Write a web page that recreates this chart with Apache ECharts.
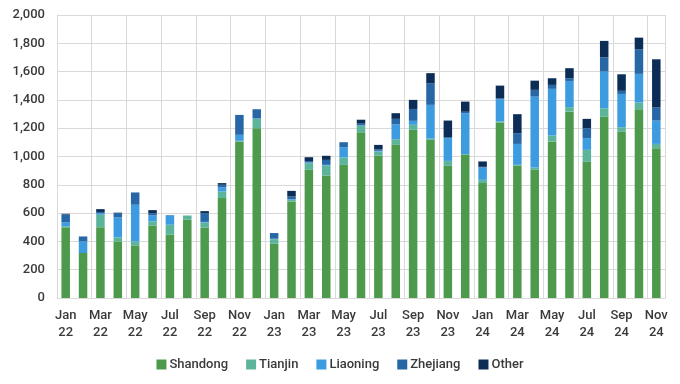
<!DOCTYPE html>
<html><head><meta charset="utf-8">
<script src="https://cdn.jsdelivr.net/npm/echarts@6/dist/echarts.min.js"></script>
<style>html,body{margin:0;padding:0;background:#fff}#c{width:680px;height:384px}</style>
</head><body><div id="c"></div>
<script>
const categories = ['Jan 22','Feb 22','Mar 22','Apr 22','May 22','Jun 22','Jul 22','Aug 22','Sep 22','Oct 22','Nov 22','Dec 22',
 'Jan 23','Feb 23','Mar 23','Apr 23','May 23','Jun 23','Jul 23','Aug 23','Sep 23','Oct 23','Nov 23','Dec 23',
 'Jan 24','Feb 24','Mar 24','Apr 24','May 24','Jun 24','Jul 24','Aug 24','Sep 24','Oct 24','Nov 24'];
const shandong = [500,318,500,400,372,513,447,553,498,706,1106,1200, 383,682,906,866,941,1172,1007,1082,1188,1118,934,1012, 812,1240,936,906,1106,1317,964,1282,1176,1334,1059];
const tianjin  = [5,0,88,28,28,28,71,30,35,47,5,66, 33,12,47,70,52,45,28,40,36,8,35,5, 23,8,5,16,42,32,83,59,31,47,30];
const liaoning = [30,82,10,141,259,42,65,0,5,28,42,3, 3,5,5,5,73,3,5,106,28,239,160,289, 87,157,148,501,330,185,83,259,235,203,165];
const zhejiang = [55,35,10,31,87,17,3,0,60,19,141,65, 40,18,10,35,35,12,10,38,84,153,8,10, 5,5,76,48,28,19,70,101,22,174,92];
const other    = [5,0,20,3,0,21,0,0,16,12,0,0, 0,40,27,29,0,28,32,40,64,71,117,72, 38,91,134,65,47,71,66,116,117,82,341];
const seriesNames = ['Shandong','Tianjin','Liaoning','Zhejiang','Other'];
const colors = ['#4e9a4c','#5cb49a','#3d9be0','#2867a6','#0c2d56'];
const dataSets = [shandong, tianjin, liaoning, zhejiang, other];

const chart = echarts.init(document.getElementById('c'));
const font = 'Roboto, "Noto Sans", sans-serif';
chart.setOption({
  animation: false,
  color: colors,
  textStyle: {fontFamily: font},
  grid: {left: 57, right: 15, top: 15, bottom: 86},
  legend: {
    bottom: 8, left: 'center', itemWidth: 10, itemHeight: 10, itemGap: 18,
    icon: 'rect',
    textStyle: {fontSize: 13, color: '#3a3a3a', fontFamily: font, fontWeight: 500, padding: [0,0,0,-2]},
    data: seriesNames
  },
  xAxis: {
    type: 'category', data: categories, boundaryGap: true,
    axisLine: {show: true, lineStyle: {color: '#d9d9d9'}},
    axisTick: {show: false},
    splitLine: {show: true, interval: 1, lineStyle: {color: '#d9d9d9', width: 1}},
    axisLabel: {interval: 1, fontSize: 13, color: '#3a3a3a', fontFamily: font, fontWeight: 500, lineHeight: 17, margin: 9,
      formatter: v => v.replace(' ', '\n')}
  },
  yAxis: {
    type: 'value', min: 0, max: 2000, interval: 200,
    axisLine: {show: true, lineStyle: {color: '#d9d9d9'}},
    axisTick: {show: false},
    splitLine: {lineStyle: {color: '#d9d9d9'}},
    axisLabel: {fontSize: 13, color: '#3a3a3a', fontFamily: font, fontWeight: 500, margin: 12,
      formatter: v => v.toLocaleString('en-US')}
  },
  series: seriesNames.map((n, i) => ({
    name: n, type: 'bar', stack: 'total', barWidth: '49%',
    data: dataSets[i], itemStyle: {color: colors[i]}
  }))
});
</script></body></html>
